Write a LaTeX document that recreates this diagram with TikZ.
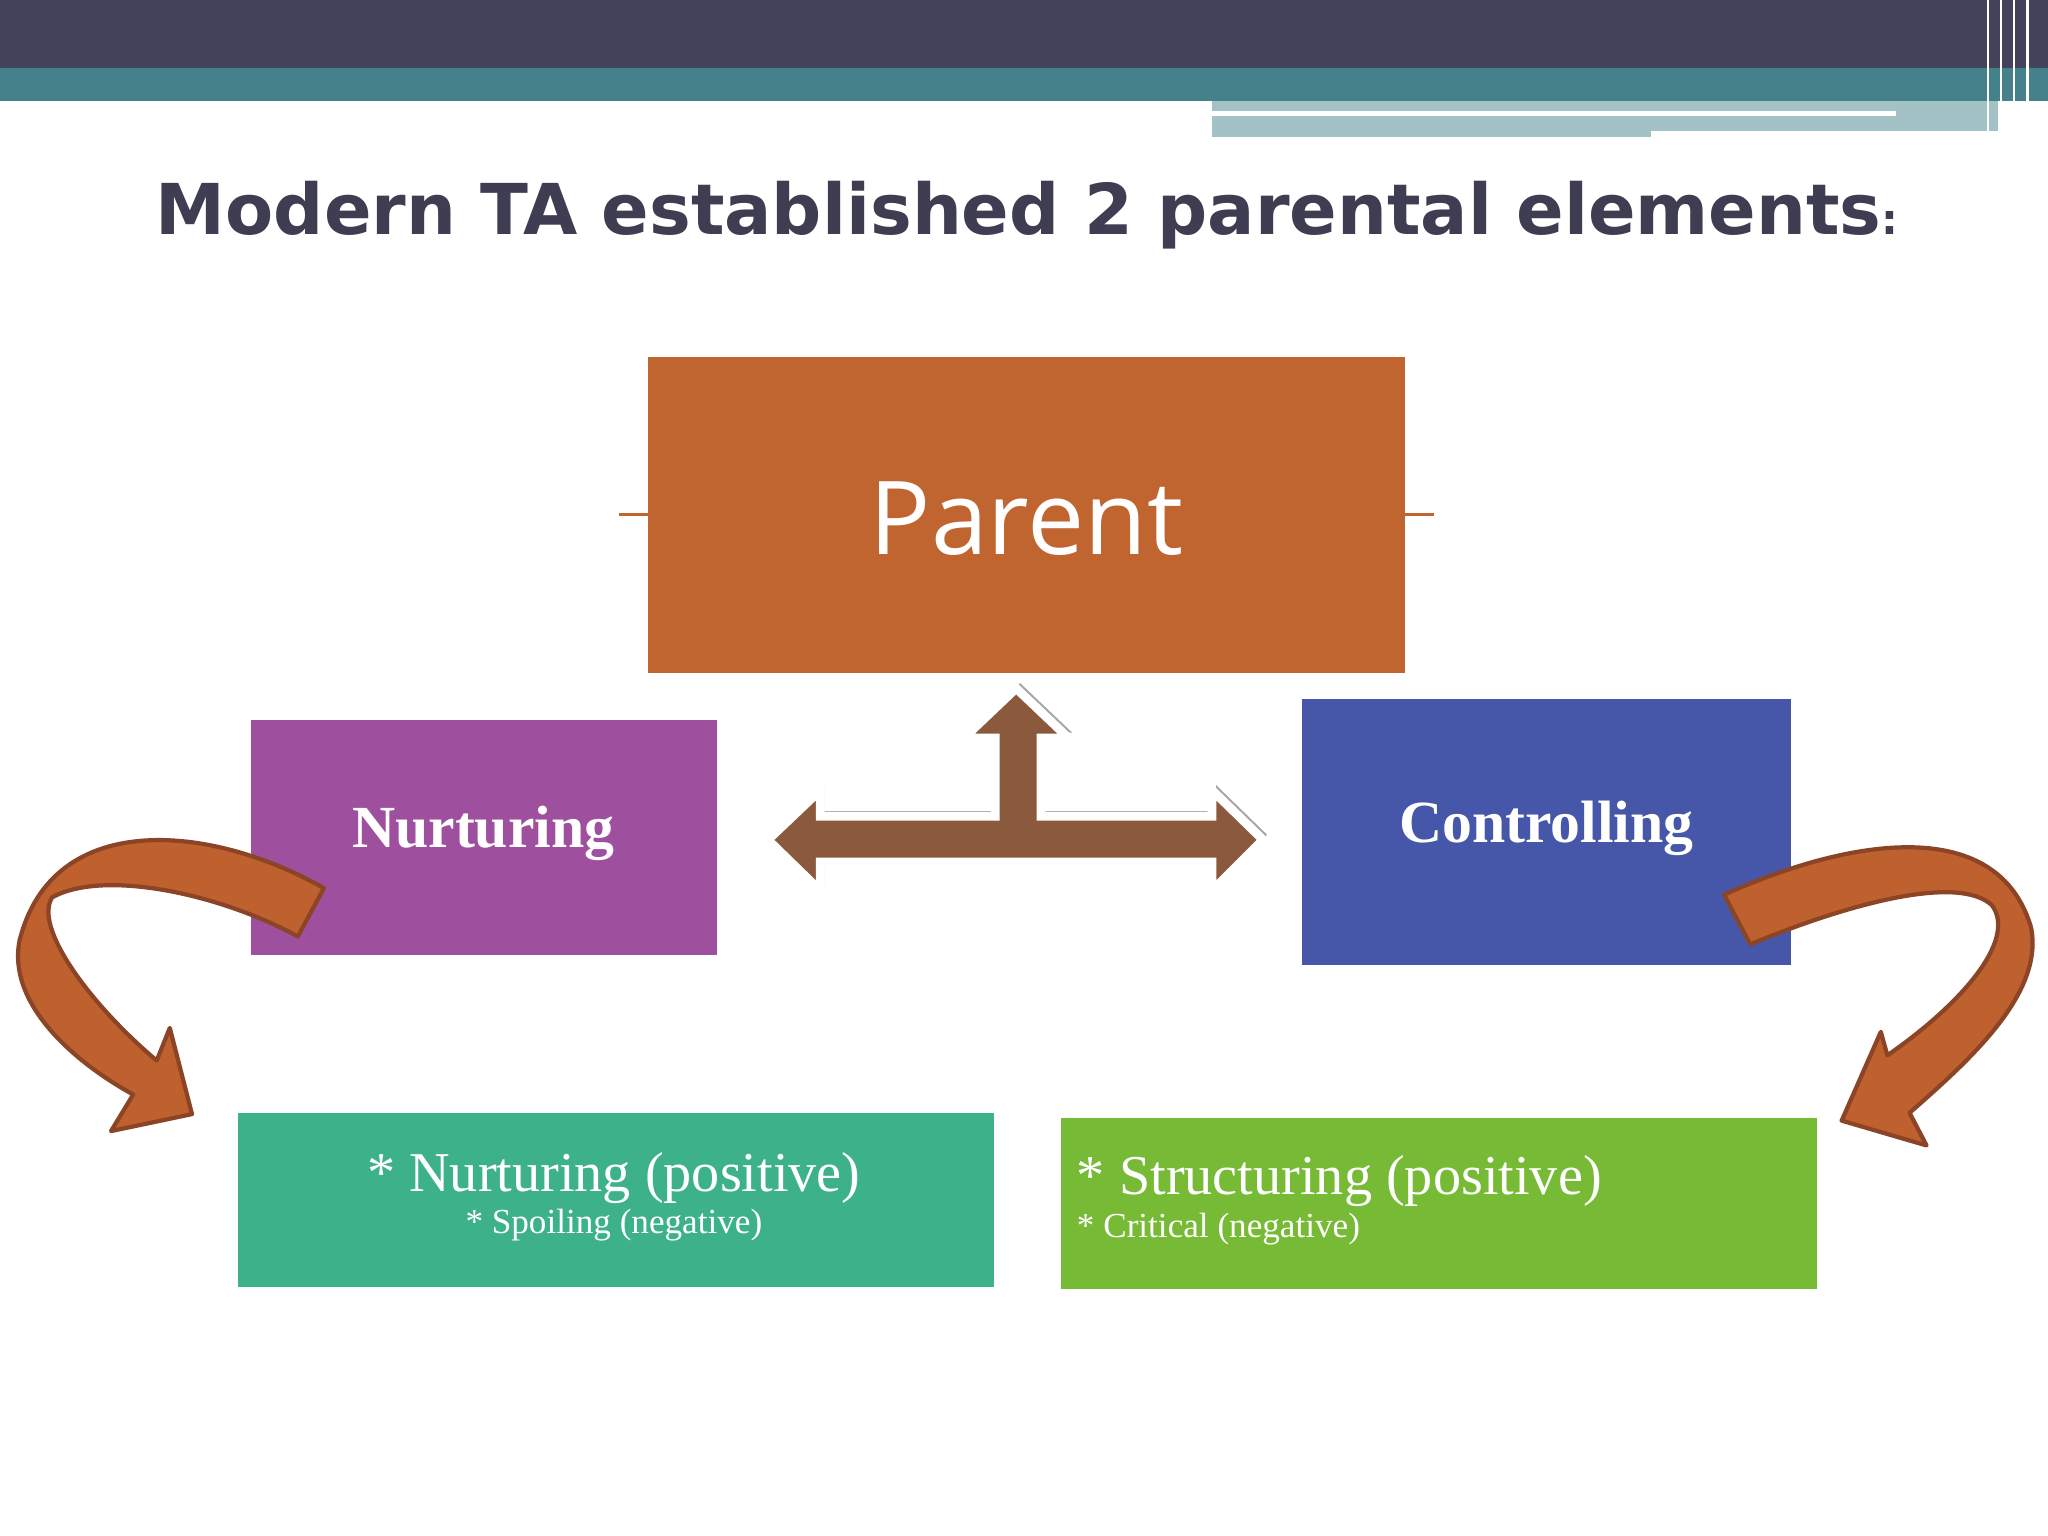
\documentclass[tikz,border=0pt]{standalone}
\usepackage{fontspec}
\setmainfont{Liberation Serif}
\newfontfamily\titlefont{DejaVu Sans}
\newfontfamily\osans{Open Sans}
\definecolor{darkbar}{HTML}{44425A}
\definecolor{tealbar}{HTML}{45818A}
\definecolor{lightbar}{HTML}{A3C2C6}
\definecolor{titlec}{HTML}{3E3D52}
\definecolor{parentc}{HTML}{C0652F}
\definecolor{nurtc}{HTML}{9E4F9E}
\definecolor{ctrlc}{HTML}{4657AA}
\definecolor{greenA}{HTML}{3DB28A}
\definecolor{greenB}{HTML}{77BA35}
\definecolor{brownc}{HTML}{8B5A3C}
\definecolor{curvec}{HTML}{BE612E}
\definecolor{curveline}{HTML}{8B4526}
\begin{document}
\begin{tikzpicture}[x=0.0130612cm,y=-0.0130612cm,
  boxst/.style={draw=none,inner sep=0pt,text=white},
  curvest/.style={fill=curvec,draw=curveline,line width=1.2pt,line join=round}]
\useasboundingbox (0,0) rectangle (1568,1176);
\fill[white] (0,0) rectangle (1568,1176);
% top bars
\fill[darkbar] (0,0) rectangle (1568,52);
\fill[tealbar] (0,52) rectangle (1568,77);
\fill[lightbar] (928,77) rectangle (1530,105);
\draw[white,line width=1.5pt] (928,87) -- (1452,87);
\fill[white] (1264,100) rectangle (1530,106);
\foreach \x in {1522,1532,1542,1552}{\draw[white,line width=0.8pt] (\x,0) -- (\x,105);}
% title
\node (title) at (780,165) {\resizebox{491pt}{!}{\titlefont\bfseries\color{titlec}Modern TA established 2 parental elements\rlap{\scalebox{0.6}{:}}}};
% boxes
\node[boxst,fill=parentc,minimum width=580\pgflinewidth] (parent) at (786,394) {};
\fill[parentc] (496,273) rectangle (1076,515);
\node[boxst] (parentt) at (786,397) {\osans\fontsize{29}{34}\selectfont Parent};
\fill[nurtc] (192,551) rectangle (549,731);
\node[boxst] (nurt) at (370,638) {\fontsize{17}{20}\selectfont\bfseries Nurturing};
\fill[ctrlc] (997,535) rectangle (1371,739);
\node[boxst] (ctrl) at (1184,634) {\fontsize{17}{20}\selectfont\bfseries Controlling};
\fill[greenA] (182,852) rectangle (761,985);
\node[boxst,align=center] (lefttxt) at (470,916) {\fontsize{16}{21.5}\selectfont * Nurturing (positive)\\ * Spoiling (negative)};
\fill[greenB] (812,856) rectangle (1391,987);
\node[boxst,align=left,anchor=west] (righttxt) at (824,919) {\fontsize{16}{21.5}\selectfont * Structuring (positive)\\ * Critical (negative)};
% T arrow
\def\tarrow{(588,643) -- (628,605) -- (628,625) -- (762,625) -- (762,565) -- (738,565) -- (778,527) -- (818,565) -- (797,565) -- (797,625) -- (928,625) -- (928,605) -- (967,643) -- (928,682) -- (928,660) -- (628,660) -- (628,682) -- cycle}
\fill[black!35,shift={(3,-4)}] \tarrow;
\filldraw[fill=brownc,draw=white,line width=2.5pt,line join=miter] \tarrow;
% curved arrows
\path[curvest] (248,680) .. controls (160,630) and (40,620) .. (15,720)
  .. controls (5,770) and (60,815) .. (102,838) -- (85,866) -- (147,853) -- (130,787)
  -- (120,812) .. controls (70,770) and (25,710) .. (40,687)
  .. controls (80,665) and (170,685) .. (228,717) -- cycle;
\path[curvest] (1320,685) .. controls (1420,640) and (1530,625) .. (1555,710)
  .. controls (1565,760) and (1510,810) .. (1462,852) -- (1475,877) -- (1410,858) -- (1440,790)
  -- (1445,808) .. controls (1500,770) and (1545,720) .. (1525,693)
  .. controls (1500,670) and (1420,690) .. (1340,723) -- cycle;
\end{tikzpicture}
\end{document}
